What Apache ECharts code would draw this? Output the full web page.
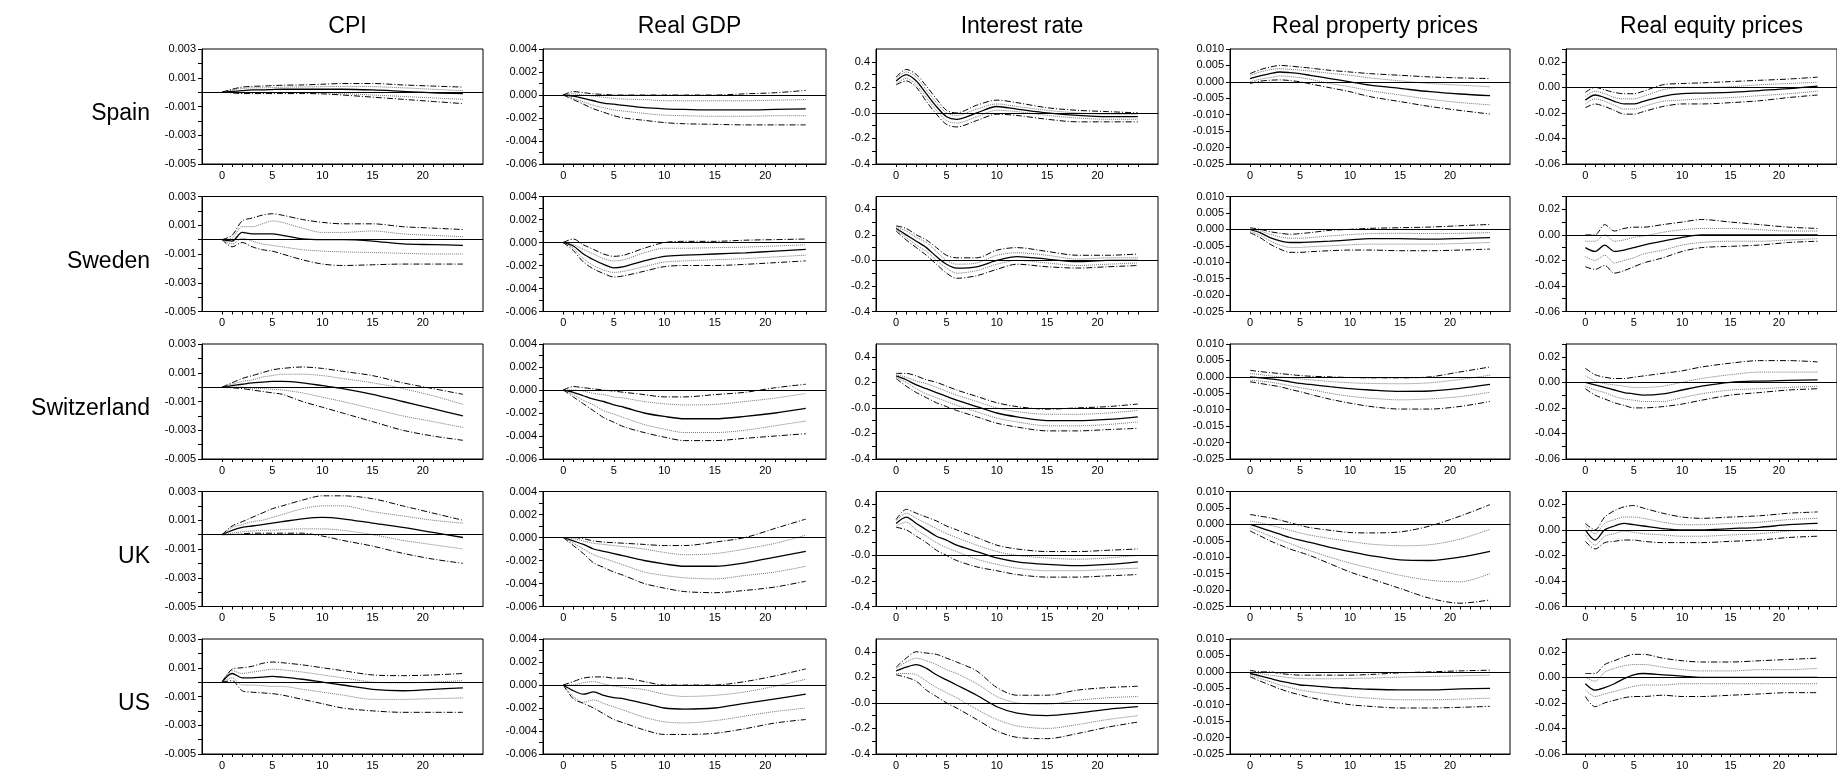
<!DOCTYPE html>
<html><head><meta charset="utf-8">
<script src="https://cdn.jsdelivr.net/npm/echarts@6/dist/echarts.min.js"></script>
<style>html,body{margin:0;background:#fff}#c{width:1837px;height:779px}</style>
</head><body><div id="c"></div>
<script>
const COUNTRIES = ['Spain','Sweden','Switzerland','UK','US'];
const VARIABLES = ['CPI','Real GDP','Interest rate','Real property prices','Real equity prices'];
const HORIZON = [0,1,2,3,4,5,6,8,10,12,15,18,21,24];
// units each variable's values are written in
const UNIT = [1e-3,1e-3,1,1e-3,1e-2];
// each country: [median, inner upper, inner lower, outer upper, outer lower]
const CPI = [
 [[0,0.05,0.1,0.15,0.15,0.18,0.2,0.2,0.2,0.2,0.15,0.05,-0.05,-0.1],
  [0,0.15,0.25,0.3,0.3,0.32,0.34,0.36,0.38,0.4,0.38,0.3,0.2,0.1],
  [0,-0.03,-0.05,-0.05,-0.05,-0.04,-0.03,-0.03,-0.05,-0.1,-0.2,-0.3,-0.4,-0.5],
  [0,0.2,0.35,0.4,0.42,0.45,0.48,0.5,0.55,0.6,0.6,0.5,0.42,0.35],
  [0,-0.05,-0.1,-0.1,-0.1,-0.1,-0.1,-0.1,-0.12,-0.2,-0.35,-0.5,-0.65,-0.8]],
 [[0,-0.1,0.5,0.4,0.4,0.4,0.3,0.05,0,0,-0.1,-0.3,-0.35,-0.4],
  [0,0.1,0.9,0.9,1.1,1.3,1.2,0.8,0.5,0.5,0.6,0.4,0.3,0.2],
  [0,-0.3,0.1,-0.1,-0.3,-0.4,-0.5,-0.7,-0.8,-0.85,-0.9,-0.95,-1,-1],
  [0,0.3,1.3,1.5,1.7,1.8,1.7,1.4,1.2,1.1,1.1,0.9,0.8,0.7],
  [0,-0.5,-0.2,-0.5,-0.7,-0.8,-1,-1.4,-1.7,-1.8,-1.75,-1.7,-1.7,-1.7]],
 [[0,0.1,0.2,0.3,0.35,0.4,0.4,0.3,0.1,-0.1,-0.5,-1,-1.5,-2],
  [0,0.2,0.4,0.5,0.7,0.8,0.9,0.9,0.8,0.6,0.3,-0.1,-0.6,-1.2],
  [0,0,0,-0.1,-0.1,-0.15,-0.2,-0.4,-0.7,-1,-1.5,-2,-2.4,-2.8],
  [0,0.3,0.6,0.8,1,1.2,1.3,1.4,1.3,1.1,0.8,0.3,-0.1,-0.5],
  [0,-0.05,-0.1,-0.2,-0.3,-0.4,-0.5,-1,-1.4,-1.8,-2.4,-3,-3.4,-3.7]],
 [[0,0.3,0.5,0.6,0.7,0.8,0.9,1.1,1.2,1.1,0.8,0.5,0.15,-0.2],
  [0,0.5,0.7,0.9,1,1.2,1.4,1.8,2,2,1.6,1.3,1,0.8],
  [0,0.1,0.2,0.25,0.3,0.3,0.35,0.4,0.4,0.3,0,-0.4,-0.7,-1],
  [0,0.6,0.9,1.2,1.5,1.8,2,2.4,2.7,2.7,2.5,2,1.5,1],
  [0,0,0.05,0.1,0.1,0.1,0.1,0.1,-0.1,-0.4,-0.8,-1.3,-1.7,-2]],
 [[0,0.6,0.3,0.3,0.35,0.4,0.35,0.2,0,-0.2,-0.5,-0.6,-0.5,-0.4],
  [0,0.8,0.6,0.7,0.8,0.9,0.85,0.7,0.5,0.3,0,-0.05,0,0.1],
  [0,0.3,-0.2,-0.2,-0.25,-0.3,-0.3,-0.5,-0.7,-0.9,-1.2,-1.2,-1.15,-1.1],
  [0,0.9,1,1.1,1.3,1.4,1.35,1.2,1,0.8,0.5,0.45,0.5,0.6],
  [0,0.1,-0.6,-0.7,-0.75,-0.8,-0.9,-1.2,-1.5,-1.8,-2,-2.1,-2.1,-2.1]]
];
const GDP = [
 [[0,-0.1,-0.3,-0.5,-0.7,-0.8,-0.9,-1.1,-1.2,-1.25,-1.3,-1.3,-1.25,-1.2],
  [0,0.1,0,-0.1,-0.2,-0.3,-0.35,-0.4,-0.5,-0.5,-0.5,-0.5,-0.45,-0.4],
  [0,-0.3,-0.6,-0.9,-1.1,-1.3,-1.4,-1.6,-1.75,-1.8,-1.85,-1.85,-1.8,-1.8],
  [0,0.3,0.2,0.1,0.05,0,0,0,0,0,0,0.1,0.2,0.4],
  [0,-0.4,-0.8,-1.2,-1.5,-1.8,-2,-2.2,-2.4,-2.5,-2.55,-2.6,-2.6,-2.6]],
 [[0,-0.3,-1,-1.5,-1.9,-2.2,-2.1,-1.6,-1.2,-1.1,-1,-0.9,-0.75,-0.6],
  [0,-0.2,-0.6,-1,-1.4,-1.6,-1.5,-0.9,-0.5,-0.5,-0.45,-0.4,-0.3,-0.2],
  [0,-0.5,-1.4,-2,-2.4,-2.6,-2.5,-2.1,-1.7,-1.6,-1.5,-1.4,-1.25,-1.1],
  [0,0.3,-0.2,-0.6,-1,-1.2,-1.1,-0.5,0,0.1,0.1,0.2,0.25,0.3],
  [0,-0.7,-1.7,-2.3,-2.7,-3,-2.9,-2.5,-2.1,-2,-2,-1.9,-1.75,-1.6]],
 [[0,-0.2,-0.5,-0.8,-1,-1.3,-1.5,-2,-2.3,-2.5,-2.5,-2.3,-2,-1.6],
  [0,0,-0.1,-0.3,-0.4,-0.6,-0.7,-1,-1.2,-1.3,-1.25,-1,-0.7,-0.3],
  [0,-0.4,-0.9,-1.3,-1.8,-2.1,-2.4,-3,-3.4,-3.7,-3.7,-3.5,-3.1,-2.7],
  [0,0.3,0.2,0.1,0,-0.1,-0.2,-0.4,-0.6,-0.6,-0.4,-0.2,0.2,0.5],
  [0,-0.6,-1.2,-1.8,-2.4,-2.8,-3.2,-3.7,-4.1,-4.4,-4.4,-4.2,-4,-3.8]],
 [[0,-0.3,-0.6,-1,-1.2,-1.4,-1.6,-2,-2.3,-2.5,-2.5,-2.2,-1.7,-1.2],
  [0,-0.1,-0.3,-0.5,-0.6,-0.7,-0.8,-1,-1.3,-1.5,-1.4,-1,-0.5,0.2],
  [0,-0.5,-1,-1.5,-1.8,-2.1,-2.4,-3,-3.3,-3.5,-3.6,-3.3,-3,-2.5],
  [0,0,-0.1,-0.3,-0.4,-0.45,-0.5,-0.6,-0.7,-0.7,-0.4,0,0.8,1.6],
  [0,-0.7,-1.4,-2.2,-2.6,-3,-3.3,-4,-4.4,-4.7,-4.8,-4.6,-4.3,-3.8]],
 [[0,-0.5,-0.8,-0.6,-0.9,-1.1,-1.2,-1.6,-2,-2.1,-2,-1.6,-1.2,-0.8],
  [0,0,0.2,0.3,0.1,-0.1,-0.2,-0.4,-0.8,-1,-0.9,-0.6,-0.1,0.5],
  [0,-1,-1.5,-1.3,-1.6,-1.9,-2.2,-2.8,-3.2,-3.3,-3.1,-2.7,-2.3,-2],
  [0,0.3,0.6,0.7,0.7,0.6,0.6,0.3,0,0,0,0.3,0.8,1.4],
  [0,-1.2,-1.6,-2,-2.5,-3,-3.3,-3.9,-4.3,-4.3,-4.2,-3.8,-3.3,-3]]
];
const RATE = [
 [[0.25,0.3,0.25,0.15,0.05,-0.03,-0.05,0,0.05,0.03,0,-0.02,-0.03,-0.03],
  [0.27,0.32,0.28,0.18,0.08,0,-0.02,0.03,0.07,0.05,0.02,0,-0.01,-0.01],
  [0.23,0.27,0.22,0.12,0.02,-0.06,-0.08,-0.03,0.02,0.01,-0.02,-0.04,-0.05,-0.05],
  [0.28,0.34,0.3,0.21,0.11,0.02,0,0.06,0.1,0.08,0.04,0.02,0.01,0],
  [0.22,0.25,0.2,0.09,-0.01,-0.09,-0.11,-0.06,-0.01,-0.02,-0.05,-0.07,-0.07,-0.07]],
 [[0.25,0.2,0.15,0.1,0.03,-0.03,-0.06,-0.05,0,0.03,0.01,-0.01,0,0],
  [0.26,0.23,0.18,0.14,0.07,0,-0.03,-0.02,0.04,0.06,0.04,0.01,0.02,0.02],
  [0.24,0.18,0.12,0.07,0,-0.06,-0.1,-0.08,-0.03,0,-0.02,-0.04,-0.03,-0.02],
  [0.27,0.25,0.2,0.16,0.1,0.04,0.02,0.02,0.08,0.1,0.07,0.04,0.04,0.05],
  [0.23,0.16,0.1,0.04,-0.03,-0.1,-0.14,-0.12,-0.07,-0.03,-0.05,-0.06,-0.05,-0.04]],
 [[0.25,0.22,0.18,0.15,0.12,0.09,0.06,0.01,-0.04,-0.07,-0.1,-0.1,-0.09,-0.07],
  [0.26,0.24,0.21,0.19,0.16,0.13,0.1,0.05,0,-0.03,-0.05,-0.05,-0.04,-0.02],
  [0.24,0.2,0.15,0.11,0.08,0.05,0.02,-0.03,-0.08,-0.11,-0.14,-0.14,-0.13,-0.11],
  [0.27,0.27,0.25,0.22,0.2,0.17,0.14,0.09,0.04,0.01,-0.01,0,0.01,0.03],
  [0.23,0.17,0.12,0.08,0.04,0.01,-0.02,-0.07,-0.12,-0.15,-0.18,-0.18,-0.17,-0.16]],
 [[0.25,0.3,0.25,0.2,0.15,0.12,0.08,0.03,-0.02,-0.05,-0.07,-0.08,-0.07,-0.05],
  [0.27,0.33,0.29,0.25,0.21,0.17,0.14,0.08,0.03,0,-0.02,-0.03,-0.02,0],
  [0.23,0.26,0.2,0.15,0.1,0.06,0.03,-0.03,-0.07,-0.1,-0.12,-0.12,-0.11,-0.1],
  [0.28,0.36,0.33,0.3,0.27,0.23,0.2,0.14,0.08,0.05,0.03,0.03,0.04,0.05],
  [0.22,0.2,0.15,0.1,0.04,0,-0.04,-0.09,-0.12,-0.15,-0.17,-0.17,-0.16,-0.15]],
 [[0.25,0.28,0.3,0.27,0.22,0.18,0.14,0.06,-0.03,-0.08,-0.1,-0.08,-0.05,-0.03],
  [0.27,0.32,0.35,0.33,0.3,0.26,0.23,0.15,0.05,0,-0.01,0.02,0.04,0.05],
  [0.23,0.23,0.22,0.17,0.12,0.08,0.04,-0.05,-0.13,-0.18,-0.2,-0.17,-0.13,-0.1],
  [0.28,0.35,0.4,0.39,0.38,0.35,0.32,0.25,0.12,0.06,0.06,0.1,0.12,0.13],
  [0.22,0.2,0.17,0.1,0.05,0,-0.04,-0.13,-0.22,-0.27,-0.28,-0.24,-0.19,-0.15]]
];
const PROPERTY = [
 [[1,1.8,2.5,3,2.8,2.5,2,1,0,-1,-2,-3,-3.7,-4.2],
  [2,3,3.7,4,3.8,3.6,3.3,2.6,2,1.2,0.3,-0.5,-1,-1.5],
  [0,0.8,1.3,1.8,1.6,1.3,0.8,-0.5,-1.5,-2.7,-4,-5.3,-6.3,-7],
  [2.5,3.7,4.5,5,4.8,4.5,4.2,3.5,3,2.5,2,1.5,1.2,1],
  [-0.5,0.2,0.5,0.6,0.4,0,-0.6,-1.8,-3,-4.5,-6,-7.5,-8.7,-9.8]],
 [[0,-1,-2.5,-3.5,-4,-4,-3.9,-3.6,-3.2,-2.8,-2.8,-3,-2.8,-2.5],
  [0,-0.5,-1.5,-2.3,-2.7,-2.7,-2.5,-2,-1.6,-1.3,-1.2,-1.3,-1.2,-1],
  [-0.5,-1.8,-3.5,-4.8,-5.5,-5.5,-5.3,-5,-4.7,-4.5,-4.5,-4.5,-4.3,-4],
  [0.5,0,-0.7,-1.2,-1.5,-1.3,-1,-0.3,0,0.3,0.5,0.7,1.1,1.5],
  [-1,-2.5,-4.5,-6,-7,-7,-6.8,-6.5,-6.3,-6.3,-6.5,-6.5,-6.3,-6]],
 [[0,-0.3,-0.6,-1,-1.5,-2,-2.3,-3,-3.6,-4,-4.4,-4.3,-3.5,-2.3],
  [1,0.7,0.3,0,-0.3,-0.6,-0.9,-1.4,-1.8,-2,-2.1,-1.8,-0.8,0.5],
  [-1,-1.3,-1.6,-2.1,-2.7,-3.3,-3.8,-5,-5.9,-6.5,-7,-6.7,-6,-4.7],
  [2,1.6,1.3,1,0.7,0.4,0.2,0,-0.2,-0.3,-0.3,0,1.5,3],
  [-1.5,-2,-2.5,-3,-3.8,-4.5,-5.3,-6.8,-8,-9,-9.8,-9.8,-9,-7.5]],
 [[0,-1,-2,-3,-4,-4.8,-5.5,-7,-8.3,-9.5,-10.8,-11,-10,-8.2],
  [1,0.5,-0.3,-1,-1.8,-2.6,-3.3,-4.3,-5.2,-6,-6.5,-6.2,-4.5,-1.5],
  [-1,-2.3,-3.5,-4.7,-5.8,-7,-8,-10,-11.8,-13.3,-15.5,-17,-17.5,-15],
  [3,2.5,2,1.3,0.5,-0.3,-1,-1.8,-2.5,-2.6,-2.3,-0.5,2.5,6],
  [-2,-3.5,-5,-6.3,-7.5,-8.5,-9.5,-12,-14.5,-16.5,-19.5,-22.5,-24,-23]],
 [[-0.5,-1.2,-2,-2.8,-3.4,-4,-4.2,-4.7,-5,-5.3,-5.5,-5.5,-5.2,-5],
  [0,-0.5,-1,-1.4,-1.8,-2,-2.1,-2.1,-2,-1.9,-1.6,-1.4,-1.2,-1],
  [-1,-2,-3,-4,-4.8,-5.5,-6,-6.8,-7.5,-8,-8.5,-8.5,-8.3,-8],
  [0.5,0,0,-0.5,-0.8,-1,-1,-1,-1,-0.8,-0.3,0,0.3,0.5],
  [-1.5,-2.8,-4,-5.2,-6.2,-7,-7.8,-9,-10,-10.5,-11,-11,-10.8,-10.5]]
];
const EQUITY = [
 [[-1,-0.6,-0.8,-1.1,-1.3,-1.3,-1.1,-0.7,-0.5,-0.45,-0.4,-0.25,-0.1,0.1],
  [-0.7,-0.3,-0.5,-0.8,-0.9,-0.9,-0.7,-0.2,0,0,0.05,0.2,0.3,0.4],
  [-1.3,-0.9,-1.1,-1.4,-1.7,-1.7,-1.5,-1.1,-1,-0.9,-0.8,-0.65,-0.5,-0.3],
  [-0.4,0,-0.2,-0.4,-0.5,-0.5,-0.3,0.2,0.3,0.35,0.45,0.55,0.65,0.8],
  [-1.6,-1.3,-1.5,-1.8,-2.1,-2.1,-1.9,-1.5,-1.3,-1.3,-1.2,-1.05,-0.8,-0.6]],
 [[-1,-1.3,-0.8,-1.3,-1.2,-1,-0.8,-0.5,-0.2,0,0,0,0,0],
  [-0.5,-0.5,0,-0.5,-0.4,-0.2,-0.1,0.2,0.4,0.5,0.5,0.4,0.3,0.3],
  [-1.7,-2,-1.6,-2.2,-2,-1.8,-1.5,-1.2,-0.8,-0.6,-0.5,-0.5,-0.4,-0.3],
  [0,0,0.8,0.3,0.5,0.6,0.6,0.8,1,1.2,1,0.8,0.6,0.5],
  [-2.5,-2.7,-2.4,-3,-2.8,-2.5,-2.2,-1.8,-1.3,-1,-0.9,-0.8,-0.6,-0.5]],
 [[0,-0.2,-0.4,-0.6,-0.8,-0.9,-1,-0.9,-0.6,-0.3,0,0.1,0.15,0.2],
  [0.5,0.1,-0.1,-0.2,-0.3,-0.4,-0.4,-0.3,0,0.3,0.6,0.8,0.8,0.8],
  [-0.3,-0.6,-0.8,-1.1,-1.3,-1.4,-1.5,-1.5,-1.2,-0.9,-0.6,-0.5,-0.4,-0.3],
  [1.1,0.6,0.4,0.3,0.3,0.4,0.5,0.7,0.9,1.2,1.5,1.7,1.7,1.6],
  [-0.5,-1,-1.3,-1.6,-1.8,-2,-2,-1.9,-1.7,-1.4,-1,-0.8,-0.6,-0.5]],
 [[0,-0.8,0,0.3,0.5,0.4,0.3,0.1,0,0,0.1,0.2,0.4,0.5],
  [0.3,-0.3,0.5,0.8,1,1,0.9,0.6,0.4,0.4,0.5,0.6,0.8,0.9],
  [-0.4,-1.2,-0.5,-0.3,-0.1,-0.2,-0.3,-0.4,-0.5,-0.5,-0.4,-0.3,-0.1,0],
  [0.5,0,1,1.5,1.8,1.9,1.7,1.3,1,0.9,1,1.1,1.3,1.4],
  [-0.9,-1.5,-1,-0.9,-0.8,-0.8,-0.9,-1,-1,-1,-0.9,-0.8,-0.6,-0.5]],
 [[-0.5,-1,-0.8,-0.5,-0.1,0.2,0.3,0.2,0.1,0,0,0,0,0],
  [0,-0.3,0.4,0.7,0.9,1,1,0.8,0.6,0.5,0.5,0.6,0.6,0.7],
  [-1,-1.5,-1.3,-1.1,-0.9,-0.7,-0.6,-0.6,-0.5,-0.5,-0.5,-0.5,-0.5,-0.5],
  [0.3,0.3,1,1.3,1.6,1.8,1.8,1.5,1.3,1.2,1.2,1.3,1.4,1.5],
  [-1.5,-2.3,-2,-1.8,-1.6,-1.5,-1.5,-1.4,-1.5,-1.5,-1.4,-1.3,-1.2,-1.2]]
];
const DATA = [CPI, GDP, RATE, PROPERTY, EQUITY];
const Y_MIN = [-0.005,-0.006,-0.4,-0.025,-0.06];
const Y_MAX = [0.003,0.004,0.5,0.010,0.03];
const Y_TICKS = [
 [-0.005,-0.004,-0.003,-0.002,-0.001,0,0.001,0.002,0.003],
 [-0.006,-0.005,-0.004,-0.003,-0.002,-0.001,0,0.001,0.002,0.003,0.004],
 [-0.4,-0.3,-0.2,-0.1,0,0.1,0.2,0.3,0.4],
 [-0.025,-0.02,-0.015,-0.01,-0.005,0,0.005,0.01],
 [-0.06,-0.05,-0.04,-0.03,-0.02,-0.01,0,0.01,0.02,0.03]];
const Y_LABELS = [
 [-0.005,-0.003,-0.001,0.001,0.003],
 [-0.006,-0.004,-0.002,0,0.002,0.004],
 [-0.4,-0.2,0,0.2,0.4],
 [-0.025,-0.02,-0.015,-0.01,-0.005,0,0.005,0.01],
 [-0.06,-0.04,-0.02,0,0.02]];
const Y_DEC = [3,3,1,3,2];
const X_TICKS = Array.from({length:25},(_, i)=>i);
const X_LABELS = [0,5,10,15,20];

const LEFTS=[202,543,876,1230,1566], WIDTHS=[281,283,282,280,281];
const T0=49, DY=147.5, H=115;
const grids=[],xAxes=[],yAxes=[],series=[],titles=[],graphics=[];
const styles=[
 {color:'#000',width:1.3,type:'solid'},
 {color:'#777',width:1,type:'dotted'},
 {color:'#777',width:1,type:'dotted'},
 {color:'#000',width:1,type:[6,2,1,2]},
 {color:'#000',width:1,type:[6,2,1,2]}];
VARIABLES.forEach((v,c)=>{
  titles.push({text:v,left:LEFTS[c]+WIDTHS[c]/2,top:10,textAlign:'center',
    textStyle:{fontFamily:'Liberation Sans, Arial',fontSize:23,fontWeight:'normal',color:'#000'}});
});
COUNTRIES.forEach((name,r)=>{
  graphics.push({type:'text',right:1837-150,top:T0+r*DY+H/2-4,
    style:{text:name,font:'23px Liberation Sans, Arial',fill:'#000',textAlign:'right'}});
  VARIABLES.forEach((v,c)=>{
    const g=grids.length;
    grids.push({left:LEFTS[c],top:T0+r*DY,width:WIDTHS[c],height:H,show:true,borderColor:'#000',borderWidth:1,backgroundColor:'transparent'});
    xAxes.push({gridIndex:g,type:'value',min:-2,max:26,interval:1,
      axisLine:{onZero:false,lineStyle:{color:'#000'}},splitLine:{show:false},
      axisTick:{length:3,lineStyle:{color:'#000'},customValues:X_TICKS},
      axisLabel:{customValues:X_LABELS,fontSize:11,color:'#000',fontFamily:'Liberation Sans, Arial',margin:6}});
    const dec=Y_DEC[c];
    yAxes.push({gridIndex:g,type:'value',min:Y_MIN[c],max:Y_MAX[c],
      axisLine:{show:true,onZero:false,lineStyle:{color:'#000'}},splitLine:{show:false},
      axisTick:{show:true,length:4,lineStyle:{color:'#000'},customValues:Y_TICKS[c]},
      axisLabel:{customValues:Y_LABELS[c],fontSize:11,color:'#000',fontFamily:'Liberation Sans, Arial',margin:6,
        formatter:val=>(c===2&&Math.abs(val)<1e-9)?'-0.0':(Math.abs(val)<1e-9?(0).toFixed(dec):val.toFixed(dec))}});
    DATA[c][r].forEach((line,k)=>{
      const s={type:'line',xAxisIndex:g,yAxisIndex:g,symbol:'none',smooth:0.3,silent:true,animation:false,
        lineStyle:styles[k],data:line.map((y,i)=>[HORIZON[i],y*UNIT[c]])};
      if(k===0) s.markLine={silent:true,symbol:'none',animation:false,label:{show:false},
        lineStyle:{color:'#000',width:1,type:'solid'},data:[{yAxis:0}]};
      series.push(s);
    });
  });
});
const chart=echarts.init(document.getElementById('c'),null,{renderer:'canvas'});
chart.setOption({animation:false,backgroundColor:'#fff',title:titles,grid:grids,xAxis:xAxes,yAxis:yAxes,series,graphic:graphics});
</script></body></html>
